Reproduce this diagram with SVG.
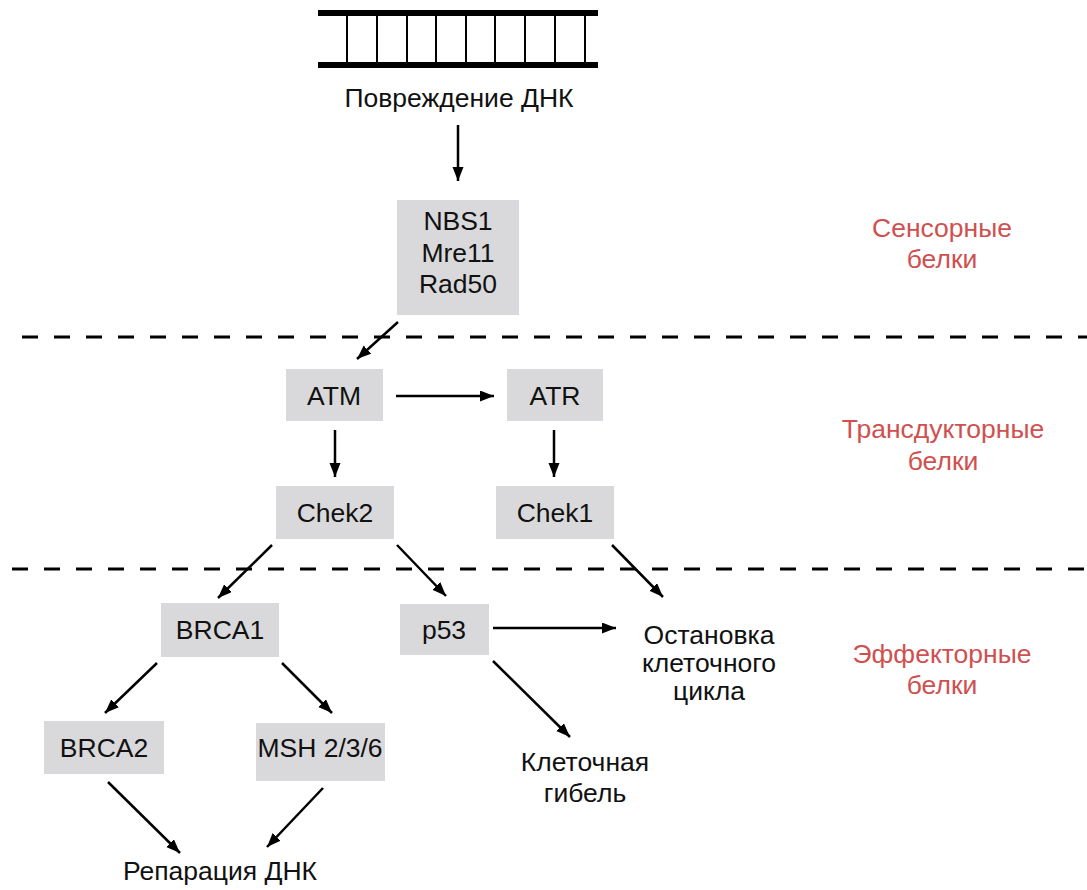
<svg xmlns="http://www.w3.org/2000/svg" width="1087" height="890" viewBox="0 0 1087 890">
<style>
.box{fill:#d9d9db}
.t{font-family:"Liberation Sans",Arial,sans-serif;font-size:26.5px;fill:#111;text-anchor:middle}
.r{font-family:"Liberation Sans",Arial,sans-serif;font-size:26.5px;fill:#d0504f;text-anchor:middle}
.c{stroke:#000;stroke-width:2.5;fill:none;marker-end:url(#ah)}
.dash{stroke:#000;stroke-width:3;stroke-dasharray:16 16}
</style>
<defs>
<marker id="ah" markerUnits="userSpaceOnUse" markerWidth="15" markerHeight="12" refX="14" refY="5.5" orient="auto">
<path d="M0,0 L14,5.5 L0,11 Z" fill="#000"/>
</marker>
</defs>
<rect width="1087" height="890" fill="#fff"/>
<g id="dna">
<rect x="318" y="10" width="280" height="6" fill="#000"/>
<rect x="318" y="62" width="280" height="6" fill="#000"/>
<g stroke="#000" stroke-width="2">
<line x1="347" y1="16" x2="347" y2="62"/>
<line x1="377" y1="16" x2="377" y2="62"/>
<line x1="407" y1="16" x2="407" y2="62"/>
<line x1="436" y1="16" x2="436" y2="62"/>
<line x1="466" y1="16" x2="466" y2="62"/>
<line x1="495" y1="16" x2="495" y2="62"/>
<line x1="525" y1="16" x2="525" y2="62"/>
<line x1="555" y1="16" x2="555" y2="62"/>
<line x1="585" y1="16" x2="585" y2="62"/>
</g>
<text class="t" x="459" y="107">Повреждение ДНК</text>
</g>
<g id="dividers">
<line class="dash" x1="22" y1="337" x2="1087" y2="337"/>
<line class="dash" x1="12" y1="569" x2="1087" y2="569"/>
</g>
<g id="nbs">
<rect class="box" x="397" y="200" width="122" height="115"/>
<text class="t" x="458" y="230">NBS1</text>
<text class="t" x="458" y="262">Mre11</text>
<text class="t" x="458" y="293">Rad50</text>
</g>
<g id="atm"><rect class="box" x="286" y="369" width="97" height="52"/><text class="t" x="334" y="405">ATM</text></g>
<g id="atr"><rect class="box" x="507" y="369" width="96" height="52"/><text class="t" x="555" y="405">ATR</text></g>
<g id="chek2"><rect class="box" x="276" y="486" width="118" height="53"/><text class="t" x="335" y="522">Chek2</text></g>
<g id="chek1"><rect class="box" x="496" y="486" width="118" height="53"/><text class="t" x="555" y="522">Chek1</text></g>
<g id="brca1"><rect class="box" x="161" y="603" width="118" height="54"/><text class="t" x="220" y="639">BRCA1</text></g>
<g id="p53"><rect class="box" x="400" y="604" width="89" height="51"/><text class="t" x="444" y="639">p53</text></g>
<g id="brca2"><rect class="box" x="44" y="721" width="120" height="53"/><text class="t" x="104" y="757">BRCA2</text></g>
<g id="msh"><rect class="box" x="256" y="723" width="129" height="58"/><text class="t" x="320" y="757">MSH 2/3/6</text></g>
<g id="arrest">
<text class="t" x="709" y="644">Остановка</text>
<text class="t" x="709" y="672">клеточного</text>
<text class="t" x="709" y="700">цикла</text>
</g>
<g id="death">
<text class="t" x="585" y="771">Клеточная</text>
<text class="t" x="585" y="802">гибель</text>
</g>
<g id="repair"><text class="t" x="220" y="880">Репарация ДНК</text></g>
<g id="labels">
<text class="r" x="942" y="237">Сенсорные</text>
<text class="r" x="942" y="268">белки</text>
<text class="r" x="943" y="438">Трансдукторные</text>
<text class="r" x="943" y="470">белки</text>
<text class="r" x="942" y="663">Эффекторные</text>
<text class="r" x="942" y="694">белки</text>
</g>
<g id="connectors">
<line class="c" x1="458" y1="125" x2="458" y2="181"/>
<line class="c" x1="398" y1="322" x2="357" y2="359"/>
<line class="c" x1="396" y1="396" x2="494" y2="396"/>
<line class="c" x1="335" y1="430" x2="335" y2="477"/>
<line class="c" x1="554" y1="430" x2="554" y2="477"/>
<line class="c" x1="272" y1="545" x2="218" y2="598"/>
<line class="c" x1="397" y1="545" x2="446" y2="596"/>
<line class="c" x1="612" y1="545" x2="663" y2="597"/>
<line class="c" x1="493" y1="628" x2="616" y2="628"/>
<line class="c" x1="493" y1="661" x2="570" y2="737"/>
<line class="c" x1="157" y1="663" x2="105" y2="713"/>
<line class="c" x1="282" y1="663" x2="332" y2="713"/>
<line class="c" x1="108" y1="782" x2="180" y2="853"/>
<line class="c" x1="323" y1="788" x2="267" y2="847"/>
</g>
</svg>
